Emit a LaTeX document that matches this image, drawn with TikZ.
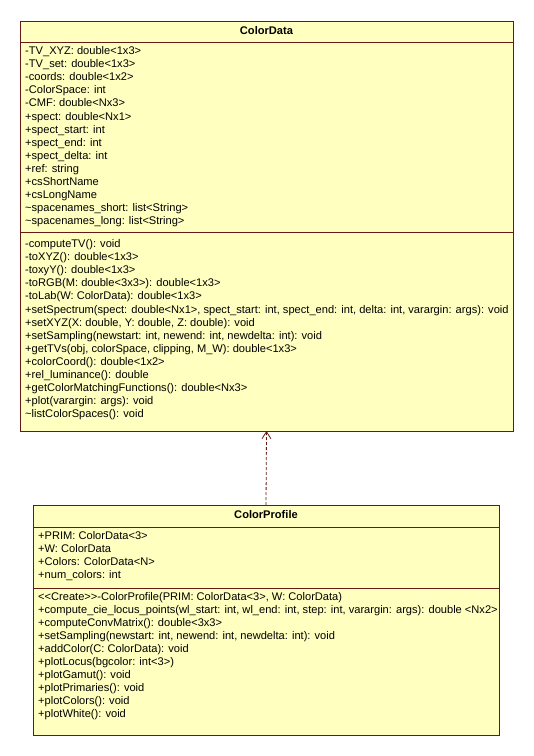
\documentclass[tikz,border=0pt]{standalone}
\usepackage{fontspec}
\setmainfont{Liberation Sans}
\usetikzlibrary{arrows.meta}
\definecolor{umlfill}{RGB}{255,255,192}
\definecolor{umlline}{RGB}{105,25,20}
\tikzset{
  classbox/.style={draw=umlline, fill=umlfill, line width=1pt, inner sep=0pt, outer sep=0pt},
  member/.style={anchor=mid west, inner sep=0pt, font=\fontsize{11.1}{13}\selectfont},
  classtitle/.style={anchor=mid, inner sep=0pt, font=\fontsize{11.1}{13}\selectfont\bfseries},
  sepline/.style={draw=umlline, line width=1pt},
  depend/.style={draw=umlline, line width=0.8pt, dash pattern=on 3pt off 2pt, -{Straight Barb[length=7pt,width=9pt]}}
}
\begin{document}
\begin{tikzpicture}[x=1pt,y=-1pt]
\useasboundingbox (0,0) rectangle (534,756);
% ColorData
\node[classbox, minimum width=493pt, minimum height=410pt, anchor=north west] (cd) at (20,21) {};
\node[classtitle] (cdt) at (266.5,31.5) {ColorData};
\draw[sepline] (cd.west |- 0,42) coordinate (cds1) -- (cd.east |- 0,42) coordinate (cds2);
\draw[sepline] (cd.west |- 0,232) coordinate (cds3) -- (cd.east |- 0,232) coordinate (cds4);
\foreach \t [count=\i] in {
 {-TV\_XYZ: double<1x3>},
 {-TV\_set: double<1x3>},
 {-coords: double<1x2>},
 {-ColorSpace: int},
 {-CMF: double<Nx3>},
 {+spect: double<Nx1>},
 {+spect\_start: int},
 {+spect\_end: int},
 {+spect\_delta: int},
 {+ref: string},
 {+csShortName},
 {+csLongName},
 {\textasciitilde spacenames\_short: list<String>},
 {\textasciitilde spacenames\_long: list<String>}}
 \node[member] (cda\i) at (25,{52+13.08*(\i-1)}) {\t};
\foreach \t [count=\i] in {
 {-computeTV(): void},
 {-toXYZ(): double<1x3>},
 {-toxyY(): double<1x3>},
 {-toRGB(M: double<3x3>): double<1x3>},
 {-toLab(W: ColorData): double<1x3>},
 {+setSpectrum(spect: double<Nx1>, spect\_start: int, spect\_end: int, delta: int, varargin: args): void},
 {+setXYZ(X: double, Y: double, Z: double): void},
 {+setSampling(newstart: int, newend: int, newdelta: int): void},
 {+getTVs(obj, colorSpace, clipping, M\_W): double<1x3>},
 {+colorCoord(): double<1x2>},
 {+rel\_luminance(): double},
 {+getColorMatchingFunctions(): double<Nx3>},
 {+plot(varargin: args): void},
 {\textasciitilde listColorSpaces(): void}}
 \node[member] (cdm\i) at (25,{245+13.08*(\i-1)}) {\t};
% ColorProfile
\node[classbox, minimum width=466pt, minimum height=230pt, anchor=north west] (cp) at (33,505) {};
\node[classtitle] (cpt) at (266,516) {ColorProfile};
\draw[sepline] (cp.west |- 0,527) coordinate (cps1) -- (cp.east |- 0,527) coordinate (cps2);
\draw[sepline] (cp.west |- 0,588) coordinate (cps3) -- (cp.east |- 0,588) coordinate (cps4);
\foreach \t [count=\i] in {
 {+PRIM: ColorData<3>},
 {+W: ColorData},
 {+Colors: ColorData<N>},
 {+num\_colors: int}}
 \node[member] (cpa\i) at (38,{537+13*(\i-1)}) {\t};
\foreach \t [count=\i] in {
 {<{}<Create>{}>-ColorProfile(PRIM: ColorData<3>, W: ColorData)},
 {+compute\_cie\_locus\_points(wl\_start: int, wl\_end: int, step: int, varargin: args): double <Nx2>},
 {+computeConvMatrix(): double<3x3>},
 {+setSampling(newstart: int, newend: int, newdelta: int): void},
 {+addColor(C: ColorData): void},
 {+plotLocus(bgcolor: int<3>)},
 {+plotGamut(): void},
 {+plotPrimaries(): void},
 {+plotColors(): void},
 {+plotWhite(): void}}
 \node[member] (cpm\i) at (38,{598+13*(\i-1)}) {\t};
% dependency
\draw[depend] (cp.north) -- (cd.south);
\end{tikzpicture}
\end{document}
